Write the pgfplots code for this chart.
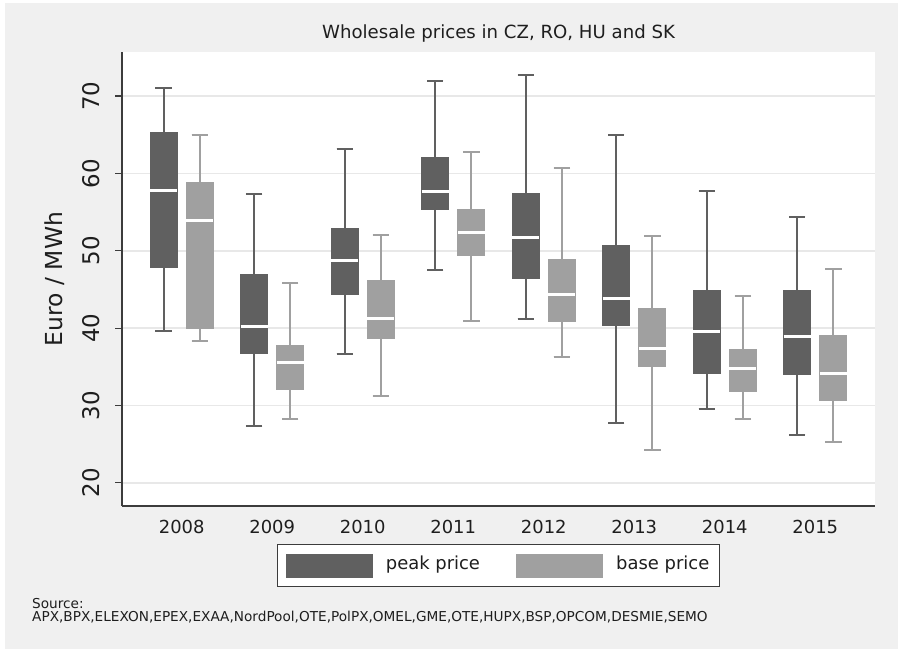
\documentclass[border=0pt]{standalone}
\usepackage{fontspec}
\setmainfont{DejaVu Sans}
\usepackage{pgfplots}
\pgfplotsset{compat=1.18}
\usepgfplotslibrary{statistics}

\definecolor{peakc}{RGB}{96,96,96}
\definecolor{basec}{RGB}{160,160,160}
\definecolor{bgc}{RGB}{240,240,240}
\definecolor{gridc}{RGB}{232,232,232}
\definecolor{axisc}{RGB}{60,60,60}
\definecolor{txtc}{RGB}{30,30,30}

\pgfplotsset{
  pkbox/.style={solid, draw=peakc, fill=peakc, line width=1bp, mark=none},
  bsbox/.style={solid, draw=basec, fill=basec, line width=1bp, mark=none},
}

\begin{document}
\begin{tikzpicture}
\useasboundingbox (0bp,0bp) rectangle (898bp,649bp);
\fill[white] (0bp,0bp) rectangle (898bp,649bp);
\fill[bgc] (5bp,0bp) rectangle (898bp,646bp);
\begin{axis}[
  at={(122bp,143bp)}, anchor=south west,
  scale only axis, width=753bp, height=454bp,
  xmin=-0.66, xmax=7.66, ymin=17, ymax=75.7,
  axis x line*=bottom, axis y line*=left,
  axis line style={draw=axisc, line width=1.2bp},
  axis background/.style={fill=white},
  xtick={0,...,7},
  xticklabels={2008,2009,2010,2011,2012,2013,2014,2015},
  xtick style={draw=none},
  ytick={20,30,40,50,60,70},
  ytick style={draw=axisc, line width=1.2bp},
  tick align=outside, major tick length=7bp,
  ymajorgrids, grid style={draw=gridc, line width=1.5bp},
  /pgf/number format/assume math mode=true,
  every tick label/.append style={text=txtc},
  xticklabel style={font=\fontsize{18}{18}\selectfont, anchor=base, inner sep=0pt, yshift=-20bp},
  yticklabel style={font=\fontsize{23}{23}\selectfont, rotate=90, anchor=south, inner sep=0pt},
  yticklabel shift=15bp,
  ylabel={Euro / MWh},
  every axis y label/.style={at={(axis description cs:-0.0784,0.5)}, rotate=90, anchor=base, font=\fontsize{23.5}{23.5}\selectfont, text=txtc},
  title={Wholesale prices in CZ, RO, HU and SK},
  title style={at={(axis description cs:0.5,1)}, anchor=base, yshift=7.7bp, font=\fontsize{18.2}{18.2}\selectfont, text=txtc},
  legend style={at={(0.5,0)}, anchor=north, yshift=-38bp, draw=axisc, line width=1.2bp, fill=white,
    inner xsep=8bp, inner ysep=9bp,
    font=\fontsize{18}{18}\selectfont, text=txtc, legend columns=2,
    /tikz/every even column/.append style={column sep=34bp},
    /tikz/every odd column/.append style={column sep=11bp}},
  boxplot/draw direction=y,
  boxplot/box extend=0.3,
  boxplot/whisker extend=0.18,
  boxplot/every median/.style={draw=white, line width=3bp},
  boxplot/every whisker/.style={line width=2bp},
]
\addlegendimage{legend image code/.code={\fill[peakc] (0bp,-13.5bp) rectangle (86bp,9.5bp);}}
\addlegendentry{peak price}
\addlegendimage{legend image code/.code={\fill[basec] (0bp,-13.5bp) rectangle (86bp,9.5bp);}}
\addlegendentry{base price\hspace{5bp}}

% peak price
\addplot+[pkbox, boxplot prepared={draw position=-0.2, lower whisker=39.6, lower quartile=47.8, median=57.8, upper quartile=65.3, upper whisker=71.1}] coordinates {};
\addplot+[pkbox, boxplot prepared={draw position=0.8, lower whisker=27.3, lower quartile=36.7, median=40.2, upper quartile=46.9, upper whisker=57.3}] coordinates {};
\addplot+[pkbox, boxplot prepared={draw position=1.8, lower whisker=36.7, lower quartile=44.3, median=48.8, upper quartile=52.9, upper whisker=63.2}] coordinates {};
\addplot+[pkbox, boxplot prepared={draw position=2.8, lower whisker=47.5, lower quartile=55.4, median=57.6, upper quartile=62.1, upper whisker=72.0}] coordinates {};
\addplot+[pkbox, boxplot prepared={draw position=3.8, lower whisker=41.2, lower quartile=46.4, median=51.7, upper quartile=57.4, upper whisker=72.7}] coordinates {};
\addplot+[pkbox, boxplot prepared={draw position=4.8, lower whisker=27.7, lower quartile=40.3, median=43.8, upper quartile=50.7, upper whisker=65.0}] coordinates {};
\addplot+[pkbox, boxplot prepared={draw position=5.8, lower whisker=29.6, lower quartile=34.1, median=39.5, upper quartile=44.8, upper whisker=57.7}] coordinates {};
\addplot+[pkbox, boxplot prepared={draw position=6.8, lower whisker=26.2, lower quartile=34.0, median=38.9, upper quartile=44.9, upper whisker=54.4}] coordinates {};

% base price
\addplot+[bsbox, boxplot prepared={draw position=0.2, lower whisker=38.3, lower quartile=39.9, median=53.9, upper quartile=58.8, upper whisker=65.0}] coordinates {};
\addplot+[bsbox, boxplot prepared={draw position=1.2, lower whisker=28.2, lower quartile=32.0, median=35.5, upper quartile=37.7, upper whisker=45.8}] coordinates {};
\addplot+[bsbox, boxplot prepared={draw position=2.2, lower whisker=31.2, lower quartile=38.6, median=41.2, upper quartile=46.1, upper whisker=52.0}] coordinates {};
\addplot+[bsbox, boxplot prepared={draw position=3.2, lower whisker=40.9, lower quartile=49.4, median=52.3, upper quartile=55.4, upper whisker=62.8}] coordinates {};
\addplot+[bsbox, boxplot prepared={draw position=4.2, lower whisker=36.3, lower quartile=40.9, median=44.3, upper quartile=48.9, upper whisker=60.7}] coordinates {};
\addplot+[bsbox, boxplot prepared={draw position=5.2, lower whisker=24.2, lower quartile=35.0, median=37.3, upper quartile=42.5, upper whisker=51.9}] coordinates {};
\addplot+[bsbox, boxplot prepared={draw position=6.2, lower whisker=28.2, lower quartile=31.8, median=34.8, upper quartile=37.2, upper whisker=44.1}] coordinates {};
\addplot+[bsbox, boxplot prepared={draw position=7.2, lower whisker=25.3, lower quartile=30.6, median=34.1, upper quartile=39.1, upper whisker=47.6}] coordinates {};
\end{axis}
\node[anchor=base west, inner sep=0pt, font=\fontsize{13.7}{13.7}\selectfont, text=txtc] at (32bp,40bp) {Source:};
\node[anchor=base west, inner sep=0pt, font=\fontsize{13.7}{13.7}\selectfont, text=txtc] at (32bp,28bp) {APX,BPX,ELEXON,EPEX,EXAA,NordPool,OTE,PolPX,OMEL,GME,OTE,HUPX,BSP,OPCOM,DESMIE,SEMO};
\end{tikzpicture}
\end{document}
